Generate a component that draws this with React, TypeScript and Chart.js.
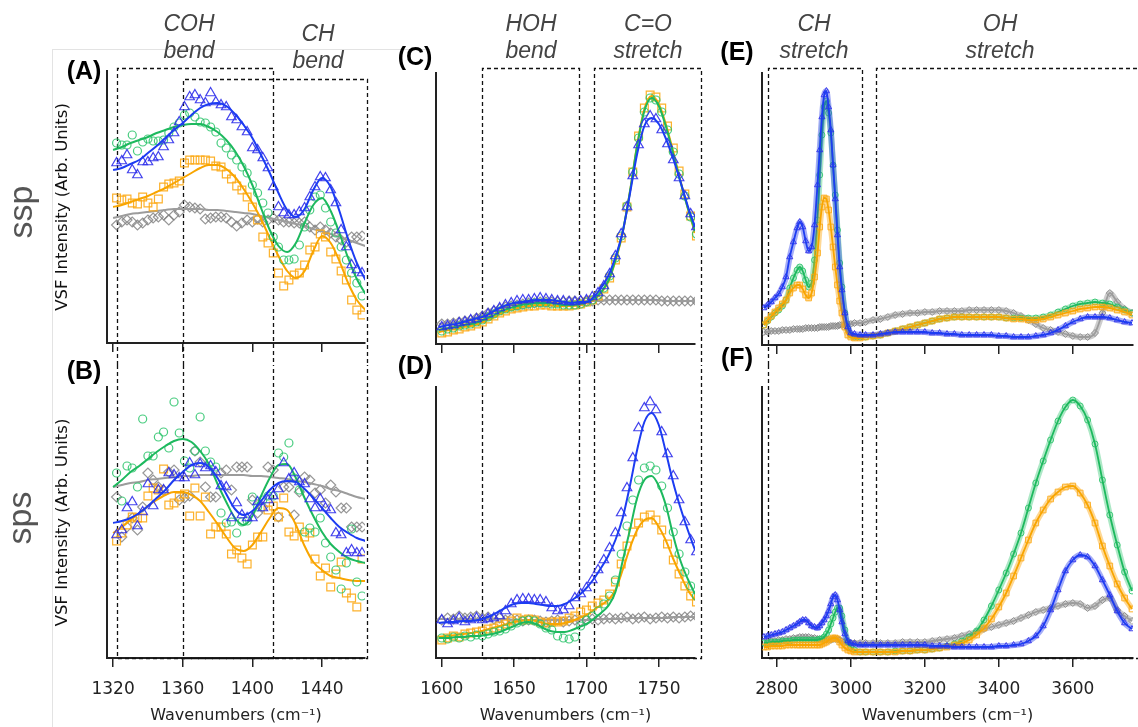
import React, { useEffect, useRef } from "react";
import { Chart, registerables } from "chart.js";

Chart.register(...registerables);

// ---------------- Panels A / B : 1320 - 1460 cm-1 ----------------
const markX_AB = [1322, 1325, 1328, 1331, 1334, 1337, 1340, 1343, 1346, 1349, 1352, 1355, 1358, 1361, 1364, 1367, 1370, 1373, 1376, 1379, 1382, 1385, 1388, 1391, 1394, 1397, 1400, 1403, 1406, 1409, 1412, 1415, 1418, 1421, 1424, 1427, 1430, 1433, 1436, 1439, 1442, 1445, 1448, 1451, 1454, 1457, 1460, 1463];
const fitX_AB = [1320, 1325, 1330, 1335, 1340, 1345, 1350, 1355, 1360, 1365, 1370, 1375, 1380, 1385, 1390, 1395, 1400, 1405, 1410, 1415, 1420, 1425, 1430, 1435, 1440, 1445, 1450, 1455, 1460, 1465];

const A_blue = [180, 182, 188, 173, 168, 181, 181, 185, 186, 196, 203, 210, 221, 236, 246, 248, 243, 240, 250, 241, 238, 236, 226, 223, 216, 211, 195, 193, 185, 175, 156, 136, 130, 128, 128, 131, 135, 146, 156, 166, 165, 153, 140, 113, 96, 78, 73, 70];
const A_green = [200, 198, 198, 208, 192, 201, 204, 202, 202, 203, 210, 216, 220, 228, 230, 226, 221, 220, 216, 211, 200, 195, 188, 183, 176, 170, 158, 150, 140, 130, 106, 96, 83, 83, 84, 98, 116, 133, 146, 148, 135, 121, 110, 96, 83, 70, 60, 47];
const A_orange = [145, 143, 144, 140, 139, 146, 140, 136, 144, 156, 159, 160, 162, 180, 183, 183, 183, 183, 182, 177, 176, 169, 164, 157, 153, 146, 136, 123, 106, 100, 90, 70, 57, 63, 68, 70, 78, 93, 96, 109, 106, 91, 84, 72, 63, 43, 33, 28];
const A_gray = [118, 121, 123, 121, 118, 120, 123, 125, 126, 128, 123, 128, 131, 138, 136, 135, 134, 124, 125, 126, 126, 125, 121, 117, 120, 123, 121, 124, 121, 123, 125, 123, 121, 121, 120, 120, 121, 116, 113, 116, 113, 110, 106, 103, 101, 106, 106, 107];
const A_fitBlue = [173, 175, 179, 183, 190, 197, 205, 213, 220, 228, 235, 239, 240, 237, 229, 218, 205, 188, 170, 150, 133, 126, 134, 153, 165, 156, 132, 104, 80, 63];
const A_fitGreen = [193, 196, 200, 203, 206, 210, 213, 216, 218, 219, 219, 216, 211, 203, 192, 177, 158, 135, 113, 97, 91, 100, 120, 138, 145, 132, 110, 85, 64, 49];
const A_fitOrange = [136, 138, 141, 144, 147, 151, 155, 160, 165, 170, 175, 178, 178, 174, 166, 154, 140, 124, 105, 87, 72, 65, 72, 92, 107, 100, 82, 60, 43, 33];
const A_fitGray = [125, 127, 129, 130, 131, 132, 133, 134, 134, 134, 134, 133, 133, 132, 131, 130, 129, 127, 125, 123, 121, 119, 117, 114, 112, 109, 106, 103, 100, 97];

const B_blue = [123, 128, 150, 156, 132, 146, 174, 152, 168, 168, 185, 183, 180, 180, 195, 183, 194, 190, 192, 186, 172, 171, 140, 155, 143, 140, 140, 156, 150, 158, 162, 169, 195, 179, 185, 176, 174, 159, 150, 159, 150, 148, 125, 123, 105, 108, 105, 105];
const B_green = [185, 157, 192, 190, 171, 239, 202, 202, 221, 226, 210, 256, 225, 197, 190, 207, 241, 207, 196, 191, 145, 135, 136, 125, 136, 137, 161, 151, 158, 162, 162, 205, 201, 215, 180, 168, 126, 130, 126, 140, 115, 101, 88, 69, 95, 129, 76, 62];
const B_orange = [117, 125, 133, 141, 140, 140, 162, 170, 168, 189, 153, 155, 161, 164, 142, 170, 142, 161, 124, 131, 131, 124, 104, 108, 100, 94, 113, 121, 121, 148, 152, 141, 160, 126, 122, 131, 121, 125, 99, 82, 90, 71, 84, 96, 65, 60, 51, 99];
const B_gray = [161, 121, 131, 140, 128, 151, 185, 178, 171, 168, 186, 188, 158, 160, 162, 207, 196, 171, 161, 161, 185, 188, 168, 191, 191, 191, 158, 145, 151, 191, 188, 141, 171, 171, 143, 166, 181, 178, 165, 168, 155, 173, 166, 150, 150, 131, 131, 131];
const B_fitBlue = [135, 137, 140, 145, 152, 160, 168, 178, 186, 193, 195, 191, 180, 164, 149, 143, 147, 157, 168, 175, 177, 176, 169, 160, 150, 140, 131, 125, 120, 117];
const B_fitGreen = [171, 178, 186, 192, 199, 206, 212, 217, 219, 216, 207, 194, 174, 156, 140, 133, 142, 162, 180, 193, 194, 180, 160, 142, 126, 114, 106, 100, 97, 95];
const B_fitOrange = [125, 131, 138, 145, 152, 158, 163, 166, 166, 163, 157, 146, 134, 121, 110, 107, 113, 126, 140, 150, 148, 133, 112, 96, 88, 82, 80, 78, 77, 77];
const B_fitGray = [171, 173, 175, 176, 178, 179, 180, 181, 182, 182, 183, 183, 183, 183, 183, 183, 182, 182, 181, 180, 179, 177, 176, 174, 172, 169, 167, 164, 161, 159];

// ---------------- Panels C / D : 1600 - 1775 cm-1 ----------------
const markX_CD = [1600, 1604, 1608, 1612, 1616, 1620, 1624, 1628, 1632, 1636, 1640, 1644, 1648, 1652, 1656, 1660, 1664, 1668, 1672, 1676, 1680, 1684, 1688, 1692, 1696, 1700, 1704, 1708, 1712, 1716, 1720, 1724, 1728, 1732, 1736, 1740, 1744, 1748, 1752, 1756, 1760, 1764, 1768, 1772, 1776];
const fitX_CD = [1598, 1605, 1610, 1615, 1620, 1625, 1630, 1635, 1640, 1645, 1650, 1655, 1660, 1665, 1670, 1675, 1680, 1685, 1690, 1695, 1700, 1705, 1710, 1715, 1720, 1725, 1730, 1735, 1740, 1745, 1750, 1755, 1760, 1765, 1770, 1775];

const C_blue = [17, 18, 19, 21, 22, 24, 25, 27, 30, 33, 36, 39, 41, 43, 44, 44, 45, 46, 45, 44, 43, 43, 42, 42, 43, 44, 47, 51, 58, 70, 88, 110, 137, 168, 199, 220, 228, 225, 214, 200, 184, 166, 148, 130, 117];
const C_green = [13, 15, 16, 18, 19, 20, 22, 24, 27, 30, 33, 35, 37, 38, 39, 40, 41, 41, 41, 40, 40, 39, 39, 39, 40, 42, 44, 49, 56, 68, 86, 108, 138, 172, 206, 232, 246, 244, 232, 214, 192, 170, 148, 127, 110];
const C_orange = [11, 12, 14, 15, 17, 18, 20, 22, 25, 28, 31, 33, 35, 36, 37, 38, 38, 39, 39, 38, 38, 38, 38, 39, 40, 42, 44, 48, 55, 66, 84, 106, 137, 172, 208, 236, 249, 247, 236, 218, 196, 173, 150, 128, 108];
const C_gray = [20, 20, 21, 22, 23, 24, 26, 28, 31, 33, 35, 37, 38, 39, 40, 41, 41, 42, 42, 42, 42, 42, 43, 43, 43, 43, 43, 44, 44, 44, 44, 44, 44, 44, 44, 44, 44, 44, 43, 43, 43, 43, 43, 43, 43];
const C_fitBlue = [17, 19, 20, 22, 24, 26, 28, 32, 36, 39, 41, 42, 43, 44, 44, 44, 43, 42, 41, 42, 42, 47, 56, 68, 87, 112, 150, 190, 218, 226, 220, 205, 185, 162, 138, 117];
const C_fitGreen = [14, 16, 17, 19, 20, 22, 25, 28, 32, 35, 37, 39, 40, 41, 41, 41, 40, 39, 39, 40, 42, 45, 52, 63, 84, 112, 152, 198, 233, 246, 238, 217, 190, 162, 136, 113];
const C_fitOrange = [12, 14, 15, 17, 18, 20, 23, 26, 30, 33, 35, 37, 38, 39, 39, 39, 38, 38, 38, 39, 41, 44, 51, 62, 83, 111, 152, 199, 235, 248, 240, 219, 192, 163, 136, 111];
const C_fitGray = [20, 21, 22, 23, 25, 27, 30, 33, 36, 38, 39, 40, 41, 41, 42, 42, 42, 42, 42, 42, 43, 43, 43, 44, 44, 44, 44, 44, 44, 44, 44, 43, 43, 43, 43, 43];

const D_blue = [38, 34, 37, 40, 36, 38, 40, 38, 39, 40, 42, 47, 54, 58, 59, 59, 58, 58, 56, 50, 47, 48, 52, 60, 64, 70, 78, 88, 98, 110, 125, 145, 170, 200, 230, 250, 256, 248, 226, 204, 182, 158, 136, 118, 106];
const D_green = [20, 19, 21, 20, 22, 21, 23, 22, 24, 26, 27, 29, 32, 35, 37, 38, 37, 34, 30, 28, 22, 20, 19, 21, 32, 38, 42, 47, 54, 62, 78, 104, 132, 158, 178, 190, 192, 188, 172, 150, 126, 104, 86, 72, 62];
const D_orange = [18, 20, 22, 21, 24, 25, 26, 27, 29, 30, 32, 34, 37, 40, 38, 39, 38, 36, 35, 36, 36, 37, 40, 42, 46, 48, 52, 55, 58, 64, 76, 94, 112, 126, 135, 141, 143, 138, 128, 114, 98, 84, 72, 62, 56];
const D_gray = [38, 40, 39, 42, 40, 41, 42, 40, 41, 39, 40, 38, 39, 38, 37, 38, 38, 37, 36, 37, 38, 36, 37, 38, 37, 38, 39, 38, 39, 40, 39, 40, 41, 39, 40, 41, 39, 40, 41, 40, 41, 40, 41, 42, 42];
const D_fitBlue = [35, 36, 36, 37, 37, 38, 40, 43, 47, 51, 54, 55, 55, 54, 53, 52, 52, 54, 58, 63, 70, 79, 90, 102, 118, 140, 172, 208, 236, 245, 233, 205, 175, 150, 128, 108];
const D_fitGreen = [20, 20, 21, 21, 22, 22, 23, 24, 26, 29, 32, 35, 36, 34, 30, 27, 26, 26, 28, 31, 34, 39, 45, 52, 66, 97, 128, 160, 178, 182, 172, 152, 122, 97, 79, 64];
const D_fitOrange = [21, 22, 23, 24, 25, 26, 28, 30, 32, 34, 36, 37, 38, 37, 35, 34, 34, 35, 37, 40, 43, 48, 53, 58, 68, 88, 110, 128, 138, 140, 131, 117, 99, 83, 68, 58];
const D_fitGray = [39, 39, 39, 39, 39, 39, 39, 39, 39, 39, 38, 38, 38, 38, 38, 38, 38, 38, 38, 38, 38, 39, 39, 39, 39, 39, 40, 40, 40, 40, 40, 40, 41, 41, 41, 41];

// ---------------- Panels E / F : 2800 - 3760 cm-1 ----------------
const x_EF = [2765, 2775, 2785, 2795, 2805, 2815, 2825, 2835, 2845, 2855, 2862, 2870, 2878, 2886, 2894, 2902, 2910, 2916, 2922, 2928, 2934, 2940, 2946, 2952, 2958, 2964, 2970, 2976, 2984, 2992, 3000, 3010, 3025, 3040, 3060, 3080, 3100, 3120, 3140, 3160, 3180, 3200, 3220, 3240, 3260, 3280, 3300, 3320, 3340, 3360, 3380, 3400, 3420, 3440, 3460, 3480, 3500, 3520, 3540, 3560, 3580, 3600, 3620, 3640, 3660, 3680, 3700, 3720, 3740, 3760];

const E_blue = [37, 40, 43, 47, 51, 58, 68, 88, 103, 117, 123, 118, 104, 94, 98, 120, 160, 195, 228, 250, 254, 238, 215, 180, 146, 110, 78, 55, 32, 18, 12, 11, 10, 10, 10, 11, 12, 13, 13, 13, 13, 13, 12, 12, 11, 11, 10, 10, 10, 10, 10, 9, 9, 8, 8, 8, 9, 10, 12, 15, 19, 23, 26, 28, 28, 28, 27, 25, 23, 22];
const E_green = [20, 24, 28, 32, 35, 39, 45, 57, 67, 75, 78, 74, 65, 58, 62, 85, 125, 170, 210, 238, 244, 232, 212, 180, 150, 115, 82, 58, 32, 16, 10, 8, 8, 8, 9, 10, 12, 14, 16, 18, 20, 22, 24, 26, 27, 28, 28, 28, 28, 28, 28, 28, 27, 27, 27, 27, 27, 28, 30, 33, 36, 39, 41, 42, 43, 42, 41, 38, 35, 32];
const E_orange = [20, 25, 29, 33, 37, 41, 45, 52, 57, 60, 60, 56, 50, 47, 52, 68, 92, 118, 138, 147, 146, 135, 118, 98, 78, 60, 44, 32, 18, 10, 8, 7, 7, 8, 9, 10, 12, 14, 16, 18, 20, 22, 24, 26, 27, 28, 28, 28, 28, 28, 28, 28, 27, 26, 26, 25, 25, 26, 28, 30, 32, 34, 36, 37, 38, 38, 37, 35, 33, 30];
const E_gray = [13, 13, 14, 14, 14, 15, 15, 15, 16, 16, 16, 16, 17, 17, 17, 17, 17, 18, 18, 18, 18, 18, 19, 19, 19, 19, 20, 20, 20, 21, 21, 22, 22, 23, 25, 26, 28, 30, 31, 32, 32, 33, 33, 34, 34, 34, 34, 35, 35, 35, 35, 35, 34, 32, 29, 25, 21, 17, 15, 13, 11, 9, 8, 8, 12, 32, 52, 43, 36, 32];

const F_blue = [21, 22, 23, 24, 25, 26, 28, 30, 32, 34, 36, 38, 38, 35, 32, 31, 30, 32, 35, 38, 42, 47, 54, 61, 63, 58, 48, 36, 24, 17, 15, 14, 13, 13, 13, 13, 13, 13, 13, 13, 13, 13, 12, 12, 12, 11, 11, 11, 11, 11, 11, 12, 12, 13, 14, 17, 22, 32, 48, 68, 87, 98, 103, 101, 92, 78, 63, 47, 35, 29];
const F_green = [15, 15, 16, 16, 16, 17, 17, 17, 18, 18, 18, 18, 18, 18, 18, 18, 18, 19, 19, 21, 24, 28, 34, 40, 46, 50, 50, 42, 28, 16, 11, 8, 6, 6, 6, 6, 6, 7, 7, 7, 8, 8, 9, 10, 12, 14, 17, 21, 27, 38, 52, 68, 85, 104, 125, 150, 175, 197, 218, 237, 251, 258, 252, 238, 214, 178, 143, 113, 86, 67];
const F_orange = [11, 11, 12, 12, 12, 12, 13, 13, 13, 13, 13, 13, 13, 13, 13, 13, 13, 13, 14, 15, 16, 18, 19, 20, 20, 19, 16, 13, 10, 8, 7, 6, 6, 6, 6, 6, 6, 6, 7, 7, 8, 8, 9, 10, 11, 13, 15, 18, 23, 30, 39, 51, 65, 82, 100, 118, 135, 148, 159, 166, 171, 172, 165, 153, 135, 112, 92, 74, 60, 49];
const F_gray = [16, 16, 17, 17, 18, 18, 19, 19, 20, 20, 21, 21, 21, 21, 20, 20, 19, 19, 19, 18, 18, 18, 18, 19, 19, 19, 18, 17, 16, 15, 15, 15, 15, 15, 15, 15, 15, 15, 16, 16, 16, 16, 17, 18, 19, 20, 22, 24, 26, 29, 31, 33, 35, 37, 40, 43, 46, 48, 50, 52, 54, 55, 54, 50, 52, 58, 60, 48, 42, 37];

// ---------------- axis ticks and band regions ----------------
const ticks_AB = [1320, 1360, 1400, 1440];
const ticks_CD = [1600, 1650, 1700, 1750];
const ticks_EF = [2800, 3000, 3200, 3400, 3600];

const bands_AB = [[1322, 1412], [1360, 1466]];
const bands_CD = [[1628, 1695], [1705, 1779]];
const bands_EF = [[2776, 3029], [3069, 3950]];

const FONT = "'DejaVu Sans', sans-serif";
const X_TITLE = "Wavenumbers (cm⁻¹)";
const Y_TITLE = "VSF Intensity (Arb. Units)";

const STYLE = {
  blue: { line: "#1c3cf2", mark: "rgba(45,45,235,0.9)", band: "rgba(40,60,235,0.42)", shape: "triangle", r: 5.5, rd: 3.5 },
  green: { line: "#1db95e", mark: "rgba(40,195,105,0.85)", band: "rgba(40,195,105,0.38)", shape: "circle", r: 4, rd: 3 },
  orange: { line: "#f8a500", mark: "rgba(252,168,20,0.9)", band: "rgba(252,168,20,0.45)", shape: "rect", r: 5.5, rd: 4 },
  gray: { line: "#9c9c9c", mark: "rgba(125,125,125,0.8)", band: "rgba(130,130,130,0.4)", shape: "rectRot", r: 5, rd: 3.5 },
};

const pts = (xs: number[], ys: number[]) => xs.map((x, i) => ({ x, y: ys[i] }));

// Sparse spectra: hollow markers plus a smooth fit curve per series
function sparseSets(markX: number[], fitX: number[], rows: any[]) {
  const out: any[] = [];
  for (const [key, marks, fit] of rows) {
    const s = (STYLE as any)[key];
    out.push({
      data: pts(fitX, fit), showLine: true, borderColor: s.line, borderWidth: 2,
      pointRadius: 0, cubicInterpolationMode: "monotone",
    });
    out.push({
      data: pts(markX, marks), showLine: false, pointStyle: s.shape, pointRadius: s.r,
      pointHoverRadius: s.r, pointBorderColor: s.mark, pointBackgroundColor: "rgba(0,0,0,0)",
      pointBorderWidth: 1.2,
    });
  }
  return out;
}

// Dense spectra: tightly packed markers drawn as a soft band with the fit on top
function denseSets(xs: number[], rows: any[]) {
  const out: any[] = [];
  for (const [key, ys] of rows) {
    const s = (STYLE as any)[key];
    out.push({
      data: pts(xs, ys), showLine: true, borderColor: s.line, borderWidth: 1.8,
      pointRadius: 0, cubicInterpolationMode: "monotone",
    });
    out.push({
      data: pts(xs, ys), showLine: true, borderColor: s.band, borderWidth: 6,
      cubicInterpolationMode: "monotone", pointStyle: s.shape, pointRadius: s.rd,
      pointBorderColor: s.mark, pointBackgroundColor: "rgba(0,0,0,0)", pointBorderWidth: 1,
    });
  }
  return out;
}

// Dashed boxes marking the vibrational bands; they run through both rows
const bandBoxes = {
  id: "bandBoxes",
  beforeDatasetsDraw(chart: any, _a: any, opts: any) {
    const { ctx, chartArea, scales } = chart;
    const xs = scales.x;
    ctx.save();
    ctx.strokeStyle = "#111";
    ctx.lineWidth = 1.3;
    ctx.setLineDash([4, 3]);
    (opts.bands || []).forEach((b: number[], i: number) => {
      const x0 = Math.round(xs.getPixelForValue(b[0])) + 0.5;
      const x1 = Math.round(xs.getPixelForValue(b[1])) + 0.5;
      ctx.beginPath();
      if (opts.part === "upper") {
        const yt = Math.round(chartArea.top - opts.rise[i]) + 0.5;
        ctx.moveTo(x0, chart.height);
        ctx.lineTo(x0, yt);
        ctx.lineTo(x1, yt);
        ctx.lineTo(x1, chart.height);
      } else {
        const yb = Math.round(chartArea.bottom) + 0.5;
        ctx.moveTo(x0, 0);
        ctx.lineTo(x0, yb);
        ctx.lineTo(x1, yb);
        ctx.lineTo(x1, 0);
      }
      ctx.stroke();
    });
    ctx.restore();
  },
};

function makeConfig(p: any) {
  const lower = p.part === "lower";
  return {
    type: "scatter",
    data: { datasets: p.datasets },
    plugins: [bandBoxes],
    options: {
      animation: false,
      responsive: false,
      events: [],
      layout: { padding: p.pad },
      plugins: {
        legend: { display: false },
        tooltip: { enabled: false },
        bandBoxes: { bands: p.bands, part: p.part, rise: p.rise || [] },
      },
      scales: {
        x: {
          type: "linear",
          min: p.xMin,
          max: p.xMax,
          afterBuildTicks: (s: any) => { s.ticks = p.ticks.map((v: number) => ({ value: v })); },
          afterFit: (s: any) => { s.height = lower ? 67 : 12; },
          ticks: {
            display: lower, color: "#222", font: { family: FONT, size: 17 }, padding: 12,
            maxRotation: 0, autoSkip: false, callback: (v: any) => String(v),
          },
          grid: { display: true, drawOnChartArea: false, drawTicks: true, tickLength: 9, color: "#222", lineWidth: 1.5 },
          border: { display: true, color: "#222", width: 2 },
          title: { display: lower, text: X_TITLE, color: "#222", font: { family: FONT, size: 16 }, padding: { top: 0, bottom: 0 } },
        },
        y: {
          type: "linear",
          min: 0,
          max: p.yMax,
          afterFit: (s: any) => { s.width = p.yWidth; },
          ticks: { display: false },
          grid: { display: false },
          border: { display: true, color: "#222", width: 2 },
          title: { display: !!p.yTitle, text: Y_TITLE, color: "#111", font: { family: FONT, size: 16.5 }, padding: { top: 3, bottom: 0 } },
        },
      },
    },
  };
}

const PANELS = [
  {
    id: "A", left: 0, top: 0, w: 380, h: 365, part: "upper", xMin: 1316.5, xMax: 1464.7, yMax: 272,
    ticks: ticks_AB, bands: bands_AB, rise: [3, -8], yWidth: 57, yTitle: true,
    pad: { left: 50, right: 15, top: 71, bottom: 10 },
    datasets: sparseSets(markX_AB, fitX_AB, [
      ["blue", A_blue, A_fitBlue], ["green", A_green, A_fitGreen],
      ["orange", A_orange, A_fitOrange], ["gray", A_gray, A_fitGray],
    ]),
  },
  {
    id: "B", left: 0, top: 365, w: 380, h: 362, part: "lower", xMin: 1316.5, xMax: 1464.7, yMax: 271,
    ticks: ticks_AB, bands: bands_AB, yWidth: 57, yTitle: true,
    pad: { left: 50, right: 15, top: 22, bottom: 2 },
    datasets: sparseSets(markX_AB, fitX_AB, [
      ["blue", B_blue, B_fitBlue], ["green", B_green, B_fitGreen],
      ["orange", B_orange, B_fitOrange], ["gray", B_gray, B_fitGray],
    ]),
  },
  {
    id: "C", left: 380, top: 0, w: 330, h: 365, part: "upper", xMin: 1596, xMax: 1775, yMax: 271,
    ticks: ticks_CD, bands: bands_CD, rise: [5, 5], yWidth: 10,
    pad: { left: 46, right: 15, top: 73, bottom: 9 },
    datasets: sparseSets(markX_CD, fitX_CD, [
      ["blue", C_blue, C_fitBlue], ["green", C_green, C_fitGreen],
      ["orange", C_orange, C_fitOrange], ["gray", C_gray, C_fitGray],
    ]),
  },
  {
    id: "D", left: 380, top: 365, w: 330, h: 362, part: "lower", xMin: 1596, xMax: 1775, yMax: 271,
    ticks: ticks_CD, bands: bands_CD, yWidth: 10,
    pad: { left: 46, right: 15, top: 22, bottom: 2 },
    datasets: sparseSets(markX_CD, fitX_CD, [
      ["blue", D_blue, D_fitBlue], ["green", D_green, D_fitGreen],
      ["orange", D_orange, D_fitOrange], ["gray", D_gray, D_fitGray],
    ]),
  },
  {
    id: "E", left: 710, top: 0, w: 428, h: 365, part: "upper", xMin: 2760, xMax: 3762.7, yMax: 272,
    ticks: ticks_EF, bands: bands_EF, rise: [5, 5], yWidth: 10,
    pad: { left: 42, right: 0, top: 73, bottom: 8 },
    datasets: denseSets(x_EF, [["blue", E_blue], ["orange", E_orange], ["green", E_green], ["gray", E_gray]]),
  },
  {
    id: "F", left: 710, top: 365, w: 428, h: 362, part: "lower", xMin: 2760, xMax: 3762.7, yMax: 271,
    ticks: ticks_EF, bands: bands_EF, yWidth: 10,
    pad: { left: 42, right: 0, top: 22, bottom: 2 },
    datasets: denseSets(x_EF, [["blue", F_blue], ["orange", F_orange], ["green", F_green], ["gray", F_gray]]),
  },
];

function Panel({ spec }: { spec: any }) {
  const ref = useRef<HTMLCanvasElement>(null);
  useEffect(() => {
    const chart = new Chart(ref.current as HTMLCanvasElement, makeConfig(spec) as any);
    return () => chart.destroy();
  }, [spec]);
  return (
    <canvas
      ref={ref}
      width={spec.w}
      height={spec.h}
      style={{ position: "absolute", left: spec.left, top: spec.top, width: spec.w, height: spec.h }}
    />
  );
}

const BAND_NAMES = [
  { cx: 189, cy: 23, lines: ["COH", "bend"] },
  { cx: 318, cy: 33, lines: ["CH", "bend"] },
  { cx: 531, cy: 23, lines: ["HOH", "bend"] },
  { cx: 648, cy: 23, lines: ["C=O", "stretch"] },
  { cx: 814, cy: 23, lines: ["CH", "stretch"] },
  { cx: 1000, cy: 23, lines: ["OH", "stretch"] },
];

const PANEL_TAGS = [
  { t: "(A)", cx: 84, cy: 72 },
  { t: "(B)", cx: 84, cy: 372 },
  { t: "(C)", cx: 415, cy: 58 },
  { t: "(D)", cx: 415, cy: 367 },
  { t: "(E)", cx: 737, cy: 53 },
  { t: "(F)", cx: 737, cy: 359 },
];

const POLARIZATIONS = [
  { t: "ssp", cx: 19.5, cy: 212 },
  { t: "sps", cx: 18.5, cy: 518 },
];

export default function App() {
  return (
    <div style={{ position: "absolute", left: 0, top: 0, width: 1138, height: 727, overflow: "hidden", background: "#fff" }}>
      <div style={{ position: "absolute", left: 52, top: 49, width: 1, height: 678, background: "#e3e3e3" }} />
      <div style={{ position: "absolute", left: 52, top: 49, width: 378, height: 1, background: "#e3e3e3" }} />
      {PANELS.map((p) => <Panel key={p.id} spec={p} />)}
      {BAND_NAMES.map((b, i) => (
        <div
          key={"b" + i}
          style={{
            position: "absolute", left: b.cx - 100, top: b.cy - 13.5, width: 200, textAlign: "center",
            font: "italic 23px 'Liberation Sans', Arial, sans-serif", lineHeight: "27px", color: "#444",
          }}
        >
          {b.lines[0]}<br />{b.lines[1]}
        </div>
      ))}
      {PANEL_TAGS.map((p) => (
        <div
          key={p.t}
          style={{
            position: "absolute", left: p.cx - 30, top: p.cy - 16, width: 60, textAlign: "center",
            font: "bold 25px 'Liberation Sans', Arial, sans-serif", lineHeight: "28px", color: "#000",
          }}
        >
          {p.t}
        </div>
      ))}
      {POLARIZATIONS.map((p) => (
        <div
          key={p.t}
          style={{
            position: "absolute", left: p.cx - 40, top: p.cy - 20, width: 80, height: 40, textAlign: "center",
            font: "34px 'Liberation Sans', Arial, sans-serif", lineHeight: "40px", color: "#555",
            transform: "rotate(-90deg)",
          }}
        >
          {p.t}
        </div>
      ))}
    </div>
  );
}
